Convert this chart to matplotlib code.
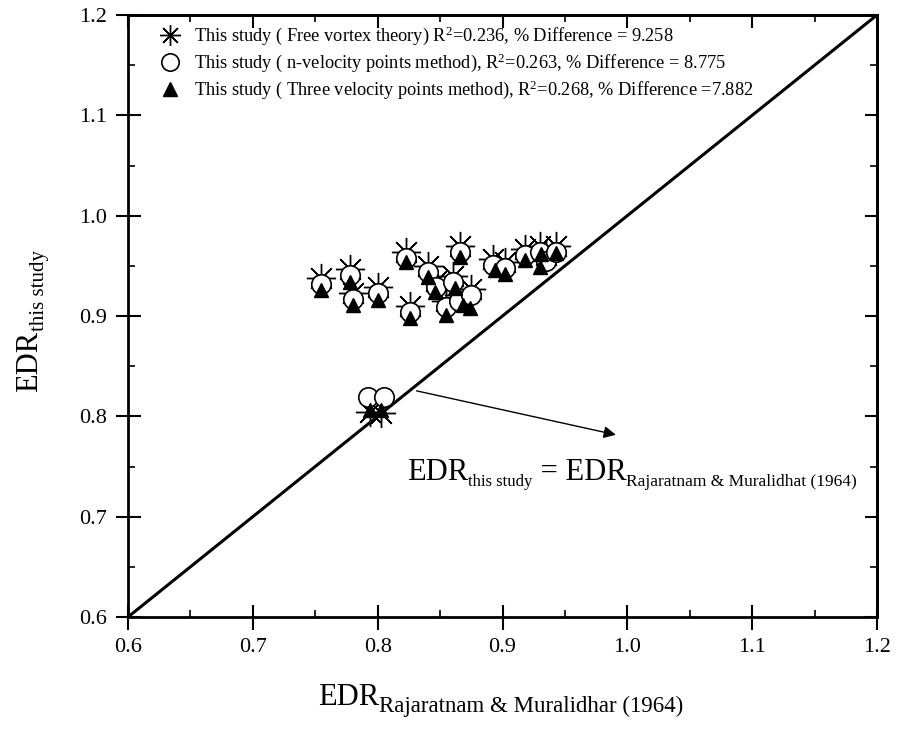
import numpy as np
import matplotlib
matplotlib.use("Agg")
import matplotlib.pyplot as plt
from matplotlib.lines import Line2D
from matplotlib.ticker import MultipleLocator

plt.rcParams['font.family'] = ['Liberation Serif', 'DejaVu Serif']
plt.rcParams['mathtext.fontset'] = 'custom'
plt.rcParams['mathtext.rm'] = 'Liberation Serif'
plt.rcParams['mathtext.it'] = 'Liberation Serif:italic'

# ---- data ----
# Free vortex theory
x_fv = [0.755, 0.778, 0.780, 0.800, 0.823, 0.826, 0.840, 0.847, 0.860, 0.866, 0.855,
        0.865, 0.875, 0.892, 0.902, 0.918, 0.930, 0.935, 0.943, 0.794, 0.803]
y_fv = [0.938, 0.947, 0.923, 0.929, 0.964, 0.910, 0.950, 0.935, 0.940, 0.970, 0.915,
        0.921, 0.927, 0.957, 0.954, 0.967, 0.970, 0.961, 0.970, 0.804, 0.803]
# n-velocity points method
x_nv = [0.755, 0.778, 0.780, 0.800, 0.823, 0.826, 0.840, 0.847, 0.860, 0.866, 0.855,
        0.865, 0.875, 0.892, 0.902, 0.918, 0.930, 0.935, 0.943, 0.792, 0.805]
y_nv = [0.932, 0.941, 0.917, 0.923, 0.958, 0.904, 0.944, 0.929, 0.934, 0.964, 0.909,
        0.915, 0.921, 0.951, 0.948, 0.961, 0.964, 0.955, 0.964, 0.819, 0.819]
# Three velocity points method
x_tv = [0.755, 0.778, 0.780, 0.800, 0.823, 0.826, 0.840, 0.846, 0.862, 0.866, 0.855,
        0.868, 0.874, 0.894, 0.902, 0.918, 0.931, 0.930, 0.943, 0.794, 0.803]
y_tv = [0.926, 0.934, 0.911, 0.916, 0.954, 0.898, 0.939, 0.924, 0.928, 0.959, 0.901,
        0.911, 0.908, 0.946, 0.942, 0.956, 0.962, 0.949, 0.963, 0.806, 0.806]

lbl_fv = 'This study ( Free vortex theory) R$^2$=0.236, % Difference = 9.258'
lbl_nv = 'This study ( n-velocity points method), R$^2$=0.263, % Difference = 8.775'
lbl_tv = 'This study ( Three velocity points method), R$^2$=0.268, % Difference =7.882'

W, H = 897, 733
fig = plt.figure(figsize=(W / 100, H / 100), dpi=100)
ax = fig.add_axes([128 / W, 116 / H, 749 / W, 602 / H])

# 1:1 line
ax.plot([0.6, 1.2], [0.6, 1.2], color='black', lw=2.2, zorder=1)

ax.plot(x_fv, y_fv, linestyle='none', marker=(8, 2, 0), markersize=21,
        markeredgecolor='black', markeredgewidth=1.0, zorder=2)
ax.plot(x_nv, y_nv, linestyle='none', marker='o', markersize=14,
        markerfacecolor='white', markeredgecolor='black', markeredgewidth=1.2,
        zorder=3)
ax.plot(x_tv, y_tv, linestyle='none', marker='^', markersize=10,
        color='black', zorder=4)

# arrow
ax.annotate('', xy=(0.993, 0.781), xytext=(0.829, 0.826),
            arrowprops=dict(arrowstyle='-|>', color='black', lw=1.0,
                            mutation_scale=18))

ax.set_xlim(0.6, 1.2)
ax.set_ylim(0.6, 1.2)
for a in (ax.xaxis, ax.yaxis):
    a.set_major_locator(MultipleLocator(0.1))
    a.set_minor_locator(MultipleLocator(0.05))
    a.set_major_formatter(plt.FormatStrFormatter('%.1f'))

ax.tick_params(which='major', direction='inout', length=18, width=1.5,
               labelsize=16, pad=6)
ax.tick_params(which='minor', direction='in', length=5, width=1.2)
for sp in ax.spines.values():
    sp.set_linewidth(2)

# inward ticks on top and right
top = ax.secondary_xaxis('top')
top.xaxis.set_major_locator(MultipleLocator(0.1))
top.xaxis.set_minor_locator(MultipleLocator(0.05))
right = ax.secondary_yaxis('right')
right.yaxis.set_major_locator(MultipleLocator(0.1))
right.yaxis.set_minor_locator(MultipleLocator(0.05))
for sec in (top, right):
    sec.tick_params(which='major', direction='in', length=9, width=1.5,
                    labelright=False, labeltop=False)
    sec.tick_params(which='minor', direction='in', length=5, width=1.2)
    for sp in sec.spines.values():
        sp.set_linewidth(2)

# legend with its own marker sizes
handles = [
    Line2D([], [], linestyle='none', marker=(8, 2, 0), markersize=15,
           markeredgecolor='black', markeredgewidth=1.0),
    Line2D([], [], linestyle='none', marker='o', markersize=12.5,
           markerfacecolor='white', markeredgecolor='black', markeredgewidth=1.2),
    Line2D([], [], linestyle='none', marker='^', markersize=10.5, color='black'),
]
ax.legend(handles, [lbl_fv, lbl_nv, lbl_tv], loc='upper left',
          bbox_to_anchor=(0.0197, 1.0116), frameon=False, fontsize=13.2,
          handletextpad=0.7, labelspacing=0.25, handlelength=1.2)

# ---- text with subscripts, built piece by piece (pixel positions) ----
renderer = fig.canvas.get_renderer()


def chain(pieces, x0, y0, rot=0):
    # pieces: (text, fontsize, drop in px)
    pos = x0 if rot == 0 else y0
    for s, size, drop in pieces:
        if rot == 0:
            xy = (pos / W, (y0 - drop) / H)
        else:
            xy = ((x0 + drop) / W, pos / H)
        t = fig.text(xy[0], xy[1], s, fontsize=size, rotation=rot,
                     rotation_mode='anchor', ha='left', va='baseline')
        bb = t.get_window_extent(renderer)
        pos = bb.x1 if rot == 0 else bb.y1


chain([('EDR', 22, 0), ('Rajaratnam & Muralidhar (1964)', 16.5, 7)], 318, 28)
chain([('EDR', 22, 0), ('this study', 15, 7)], 37, 341, rot=90)
chain([('EDR', 22, 0), ('this study', 12, 6), (' = EDR', 22, 0),
       ('Rajaratnam & Muralidhat (1964)', 12.5, 6)], 407, 253)

fig.savefig('out.png', dpi=100)
